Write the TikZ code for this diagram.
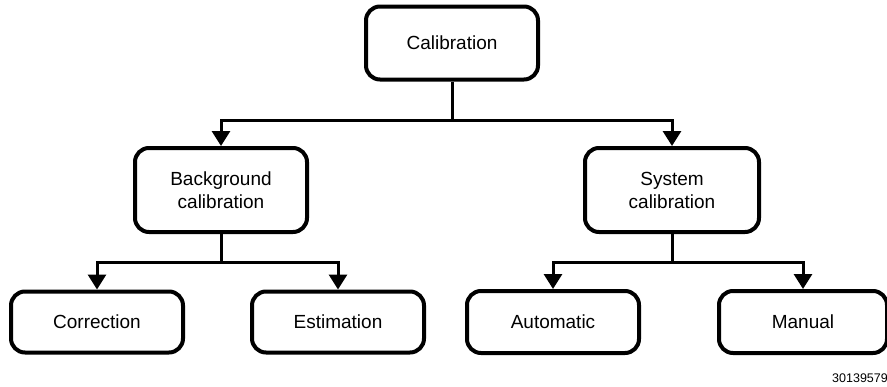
\documentclass[tikz,border=0pt]{standalone}
\usepackage{fontspec}
\setmainfont{Liberation Sans}
\usetikzlibrary{arrows.meta}
\begin{document}
\begin{tikzpicture}[x=1pt, y=-1pt,
  box/.style={draw, line width=4pt, rounded corners=14pt, fill=white,
    minimum width=172pt, inner sep=0pt, align=center,
    font=\fontsize{19}{23}\selectfont},
  conn/.style={line width=3pt},
  arr/.style={conn, -{Triangle[width=18pt,length=15pt]}}]
\useasboundingbox (0,0) rectangle (887,386);
% Boxes
\node[box, minimum height=73pt] (calib) at (452,43) {Calibration};
\node[box, minimum height=84pt] (bg) at (221,190) {Background\\calibration};
\node[box, minimum height=84pt, minimum width=174pt] (sys) at (672,190) {System\\calibration};
\node[box, minimum height=61pt] (corr) at (97,322) {Correction};
\node[box, minimum height=61pt] (est) at (338,322) {Estimation};
\node[box, minimum height=62pt] (auto) at (553,322) {Automatic};
\node[box, minimum height=62pt, minimum width=168pt] (man) at (803,322) {Manual};
% Branch points
\coordinate (top) at (452,120);
\coordinate (left) at (221,262);
\coordinate (right) at (672,262);
% Connectors
\draw[conn] (calib.south) -- (top);
\draw[arr] (top) -| (bg.north);
\draw[arr] (top) -| (sys.north);
\draw[conn] (bg.south) -- (left);
\draw[arr] (left) -| (corr.north);
\draw[arr] (left) -| (est.north);
\draw[conn] (sys.south) -- (right);
\draw[arr] (right) -| (auto.north);
\draw[arr] (right) -| (man.north);
% Label
\node[anchor=base west, inner sep=0pt, font=\fontsize{12.5}{15}\selectfont] (num) at (832,382) {30139579};
\end{tikzpicture}
\end{document}
